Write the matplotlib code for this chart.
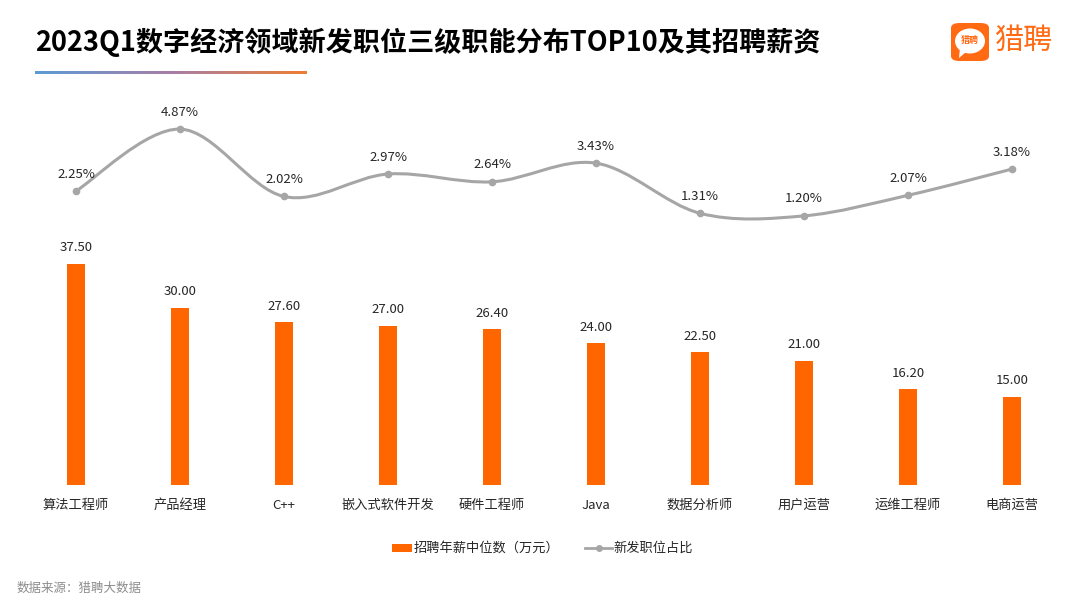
import numpy as np
import matplotlib
matplotlib.use("Agg")
import matplotlib.pyplot as plt
from matplotlib.path import Path
from matplotlib.patches import PathPatch, FancyBboxPatch, Ellipse, Polygon, Rectangle
from matplotlib.lines import Line2D
from matplotlib.colors import LinearSegmentedColormap

plt.rcParams['font.family'] = ['Noto Sans CJK SC', 'DejaVu Sans']

# ---- data ----
categories = ['算法工程师', '产品经理', 'C++', '嵌入式软件开发', '硬件工程师',
              'Java', '数据分析师', '用户运营', '运维工程师', '电商运营']
salary = [37.50, 30.00, 27.60, 27.00, 26.40, 24.00, 22.50, 21.00, 16.20, 15.00]
share = [2.25, 4.87, 2.02, 2.97, 2.64, 3.43, 1.31, 1.20, 2.07, 3.18]

title = '2023Q1数字经济领域新发职位三级职能分布TOP10及其招聘薪资'
bar_name = '招聘年薪中位数（万元）'
line_name = '新发职位占比'
source = '数据来源：猎聘大数据'

ORANGE = '#FF6600'
GRAY = '#A6A6A6'
W, H = 1080, 608

fig = plt.figure(figsize=(W / 100, H / 100), dpi=100)
fig.patch.set_facecolor('white')

def fx(px):
    return px / W

def fy(py):
    return 1 - py / H

# bars: baseline at y=485 px, axes top at y=100 px
ax = fig.add_axes([fx(24), fy(485), fx(1040), (485 - 100) / H])
x = np.arange(len(categories))
ax.bar(x, salary, width=0.18, color=ORANGE, zorder=2)
ax.set_xlim(-0.5, len(categories) - 0.5)
ax.set_ylim(0, 65.3)
for xi, v in zip(x, salary):
    ax.annotate(f'{v:.2f}', (xi, v), xytext=(0, 7), textcoords='offset points',
                ha='center', va='bottom', fontsize=9.5, color='#262626')
ax.set_xticks(x)
ax.set_xticklabels(categories, fontsize=9.5, color='#262626')
ax.tick_params(axis='x', length=0, pad=10)
ax.set_yticks([])
for s in ax.spines.values():
    s.set_visible(False)

# line on secondary axis, smoothed with bezier segments
ax2 = ax.twinx()
ax2.set_ylim(-10.18, 6.10)
ax2.set_yticks([])
for s in ax2.spines.values():
    s.set_visible(False)

pts = np.column_stack([x, share]).astype(float)
n = len(pts)
verts = [pts[0]]
codes = [Path.MOVETO]
for i in range(n - 1):
    p0 = pts[max(i - 1, 0)]
    p1 = pts[i]
    p2 = pts[i + 1]
    p3 = pts[min(i + 2, n - 1)]
    c1 = p1 + (p2 - p0) / 6.0
    c2 = p2 - (p3 - p1) / 6.0
    verts += [c1, c2, p2]
    codes += [Path.CURVE4] * 3
ax2.add_patch(PathPatch(Path(verts, codes), fill=False, edgecolor=GRAY, lw=2.2, zorder=3))
ax2.plot(x, share, 'o', color=GRAY, ms=4.5, zorder=4)
for xi, v in zip(x, share):
    ax2.annotate(f'{v:.2f}%', (xi, v), xytext=(0, 7.5), textcoords='offset points',
                 ha='center', va='bottom', fontsize=9.5, color='#262626')

# title and gradient underline
fig.text(fx(35), fy(42), title, fontsize=19.5, fontweight='bold', color='#000000',
         ha='left', va='center')
grad = LinearSegmentedColormap.from_list('ul', ['#5B9BD5', '#A77FA8', '#ED7D31'])
gax = fig.add_axes([fx(35), fy(74), fx(272), 3 / H])
gax.imshow(np.linspace(0, 1, 256)[None, :], cmap=grad, aspect='auto')
gax.axis('off')

# logo
fig.patches.append(FancyBboxPatch((fx(951), fy(61)), fx(38), 38 / H,
                                  boxstyle='round,pad=0,rounding_size=0.008',
                                  transform=fig.transFigure, facecolor='#FF6A13',
                                  edgecolor='none'))
fig.patches.append(Ellipse((fx(970), fy(41)), fx(30), 25 / H, transform=fig.transFigure,
                           facecolor='white', edgecolor='none'))
fig.patches.append(Polygon([(fx(960), fy(48)), (fx(966), fy(52)), (fx(959), fy(58))],
                           closed=True, transform=fig.transFigure,
                           facecolor='white', edgecolor='none'))
fig.text(fx(970), fy(41), '猎聘', fontsize=6.5, fontweight='bold', color='#FF6A13',
         ha='center', va='center')
fig.text(fx(994), fy(41), '猎聘', fontsize=21, color='#FF6A13', ha='left', va='center')

# legend
fig.patches.append(Rectangle((fx(392), fy(552)), fx(20), 8 / H, transform=fig.transFigure,
                             facecolor=ORANGE, edgecolor='none'))
fig.text(fx(414), fy(548), bar_name, fontsize=9.5, color='#262626', ha='left', va='center')
fig.lines.append(Line2D([fx(585), fx(612)], [fy(548), fy(548)], transform=fig.transFigure,
                        color=GRAY, lw=2))
fig.lines.append(Line2D([fx(598.5)], [fy(548)], transform=fig.transFigure,
                        color=GRAY, marker='o', ms=4, lw=0))
fig.text(fx(613), fy(548), line_name, fontsize=9.5, color='#262626', ha='left', va='center')

# source
fig.text(fx(17), fy(588), source, fontsize=9, color='#8C8C8C', ha='left', va='center')

fig.savefig('out.png', dpi=100, facecolor='white')
